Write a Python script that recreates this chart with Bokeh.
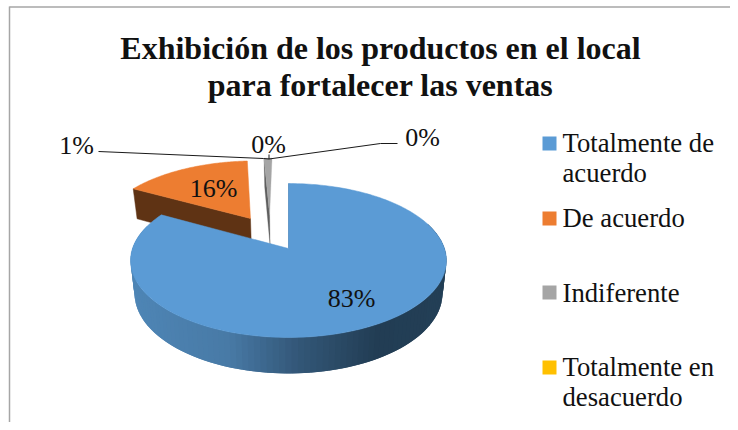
from math import sin, cos, radians
from bokeh.plotting import figure
from bokeh.models import Range1d
from bokeh.core.properties import value
from bokeh.embed import file_html
from bokeh.resources import INLINE

title_lines = ["Exhibición de los productos en el local", "para fortalecer las ventas"]
categories = ["Totalmente de\nacuerdo", "De acuerdo", "Indiferente", "Totalmente en\ndesacuerdo"]
percent = [83, 16, 1, 0]
labels = ["83%", "16%", "1%", "0%", "0%"]
colors = ["#5B9BD5", "#ED7D31", "#A5A5A5", "#FFC000"]

FONT = value("Liberation Serif")
CX, CY = 288.0, 248.0
A, C, K = 156.0, 75.1, 0.156


def project(u, v):
    w = 1 + K * v
    return CX + A * u / w, CY - C * v / w


def lower(x, y):
    return 289 + 0.975 * (x - 289), y + 30 + (y - 188) * 0.04


def rim(t0, t1, du, dv, n=80):
    pts = []
    for i in range(n + 1):
        t = radians(t0 + (t1 - t0) * i / n)
        pts.append(project(du + sin(t), dv + cos(t)))
    return pts


def lerp_color(stops, x):
    if x <= stops[0][0]:
        return "#%02x%02x%02x" % stops[0][1]
    for (x0, c0), (x1, c1) in zip(stops, stops[1:]):
        if x <= x1:
            f = (x - x0) / (x1 - x0)
            return "#%02x%02x%02x" % tuple(round(a + (b - a) * f) for a, b in zip(c0, c1))
    return "#%02x%02x%02x" % stops[-1][1]


p = figure(width=730, height=422, x_range=Range1d(0, 730), y_range=Range1d(422, 0),
           output_backend="svg", toolbar_location=None, min_border=0,
           x_axis_type=None, y_axis_type=None)
p.grid.visible = False
p.outline_line_color = None
p.background_fill_color = "white"
p.border_fill_color = "white"

# chart frame
p.line([9, 9], [6, 422], line_color="#A6A6A6", line_width=1.5)
p.line([9, 730], [6.5, 6.5], line_color="#A6A6A6", line_width=1.5)

# angles from the values, clockwise from 12 o'clock
a_blue = percent[0] * 3.6
a_orange = a_blue + percent[1] * 3.6
a_gray = a_orange + percent[2] * 3.6

# orange slice
ou, ov = -0.26, 0.426
orange_rim = rim(a_blue, a_orange, ou, ov)
otip = project(ou, ov)
orim0 = orange_rim[0]
wall = [orim0, otip, lower(*otip), lower(*orim0)]
p.patch([q[0] for q in wall], [q[1] for q in wall], fill_color="#5F3314", line_color="#5F3314", line_width=0.5)
pts = orange_rim + [otip]
p.patch([q[0] for q in pts], [q[1] for q in pts], fill_color=colors[1], line_color=colors[1], line_width=0.5)

# grey slice
gu, gv = -0.13, 0.48
gray_rim = rim(a_orange, a_gray, gu, gv, 8)
gtip = project(gu, gv)
g0 = gray_rim[0]
wall = [g0, gtip, lower(*gtip), lower(*g0)]
p.patch([q[0] for q in wall], [q[1] for q in wall], fill_color="#5E5E5E", line_color="#5E5E5E", line_width=0.3)
pts = gray_rim + [gtip]
p.patch([q[0] for q in pts], [q[1] for q in pts], fill_color=colors[2], line_color=colors[2], line_width=0.3)

# blue slice: wall as overlapping strips with a gradient, then the face
stops = [(133, (78, 133, 181)), (230, (72, 122, 166)), (300, (51, 87, 120)), (380, (34, 61, 84)), (445, (35, 63, 86))]
wall_rim = rim(288, 70, 0, 0, 110)
xs, ys, cols = [], [], []
for i in range(len(wall_rim) - 1):
    q0 = wall_rim[i]
    q1 = wall_rim[min(i + 2, len(wall_rim) - 1)]
    l0, l1 = lower(*q0), lower(*q1)
    xs.append([q0[0], q1[0], l1[0], l0[0]])
    ys.append([q0[1], q1[1], l1[1], l0[1]])
    cols.append(lerp_color(stops, (q0[0] + q1[0]) / 2))
p.patches(xs, ys, fill_color=cols, line_color=None)
tip = project(0, 0)
top0 = project(0, 1)
p.line([top0[0] + 0.4, tip[0] + 0.4], [top0[1], tip[1]], line_color="#33516E", line_width=1)
pts = rim(0, a_blue, 0, 0, 240) + [tip]
p.patch([q[0] for q in pts], [q[1] for q in pts], fill_color=colors[0], line_color=colors[0], line_width=0.5)

# leader lines
leader_x = [[98, 263, 268.5], [268.5, 268.5], [268.5, 380, 397]]
leader_y = [[151, 158, 158.5], [154, 158.5], [158.5, 143, 143]]
for lx, ly in zip(leader_x, leader_y):
    p.line(lx, ly, line_color="#1A1A1A", line_width=1)

# data labels
label_x = [351, 213, 76, 268, 422]
label_y = [298, 188, 145, 144, 137]
p.text(label_x, label_y, text=labels, text_font=FONT, text_font_size="26px", text_color="#111111",
       text_align="center", text_baseline="middle")

# title
p.text([380, 380], [47, 84.5], text=title_lines, text_font=FONT, text_font_size="32px", text_font_style="bold",
       text_color="#111111", text_align="center", text_baseline="middle")

# legend
swatch_y = [143, 218, 292, 367]
text_y = [127, 202, 277, 351]
p.rect([549] * 4, swatch_y, width=14, height=14, fill_color=colors, line_color=None)
p.text([562] * 4, text_y, text=categories, text_font=FONT, text_font_size="26.7px", text_color="#111111",
       text_align="left", text_baseline="top", text_line_height=1.0)

open("out.html", "w").write(file_html(p, INLINE))
